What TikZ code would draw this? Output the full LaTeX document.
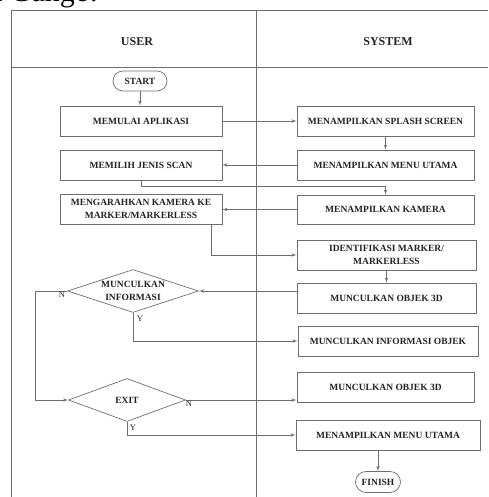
\documentclass[tikz,border=0pt]{standalone}
\usepackage{fontspec}
\setmainfont{Liberation Serif}
\usepackage{tikz}
\usetikzlibrary{arrows,shapes.geometric,shapes.misc}
\definecolor{linegray}{RGB}{110,110,110}
\definecolor{textdark}{RGB}{35,35,35}

\begin{document}
\begin{tikzpicture}[x=1pt,y=-1pt,>=latex',
  wire/.style={draw=linegray,line width=0.7pt},
  box/.style={wire,rectangle,minimum height=30pt,inner sep=0pt,align=center,text=textdark,font=\fontsize{9.5}{12.5}\selectfont\bfseries},
  term/.style={wire,rounded rectangle,minimum height=20pt,inner sep=0pt,text=textdark,font=\fontsize{9.5}{11}\selectfont\bfseries},
  decision/.style={wire,diamond,aspect=3,inner sep=0pt,align=center,text=textdark,font=\fontsize{9.5}{12.5}\selectfont\bfseries},
  lbl/.style={inner sep=0pt,text=textdark,font=\fontsize{8.5}{9}\selectfont}]
  \useasboundingbox (0,0) rectangle (488,497);
  \clip (0,0) rectangle (488,497);

  % Caption above (cut off)
  \node[anchor=base west,inner sep=0pt,font=\fontsize{30}{32}\selectfont] (fragmen) at (-11,2) {a Gango.};

  % Swimlanes
  \draw[wire,line width=0.9pt] (11,497) -- (11,10) -- (488,10);
  \draw[wire,line width=0.9pt] (11,67) -- (488,67);
  \draw[wire,line width=0.9pt] (256,10) -- (256,497);
  \node[text=textdark,font=\fontsize{12}{14}\selectfont\bfseries] (user) at (137,42) {USER};
  \node[text=textdark,font=\fontsize{12}{14}\selectfont\bfseries] (system) at (388,42) {SYSTEM};

  % User
  \node[term,minimum width=54pt] (start) at (140,81) {START};
  \node[box,minimum width=162pt] (memulai) at (141,121) {MEMULAI APLIKASI};
  \node[box,minimum width=162pt] (memilih) at (141,165) {MEMILIH JENIS SCAN};
  \node[box,minimum width=162pt] (arahkan) at (141,209) {MENGARAHKAN KAMERA KE\\MARKER/MARKERLESS};
  \node[decision,minimum width=131pt,minimum height=43pt] (infodec) at (133,291) {MUNCULKAN\\INFORMASI};
  \node[decision,minimum width=117pt,minimum height=43pt] (exitdec) at (127,400) {EXIT};

  % System
  \node[box,minimum width=177pt] (splash) at (385.5,121) {MENAMPILKAN SPLASH SCREEN};
  \node[box,minimum width=177pt] (menu) at (385.5,165) {MENAMPILKAN MENU UTAMA};
  \node[box,minimum width=177pt,minimum height=29pt] (kamera) at (385.5,209.5) {MENAMPILKAN KAMERA};
  \node[box,minimum width=179pt] (identifikasi) at (386.5,255) {IDENTIFIKASI MARKER/\\MARKERLESS};
  \node[box,minimum width=179pt] (objek) at (386.5,298) {MUNCULKAN OBJEK 3D};
  \node[box,minimum width=180pt] (info) at (388,341) {MUNCULKAN INFORMASI OBJEK};
  \node[box,minimum width=177pt] (objektiga) at (385.5,387) {MUNCULKAN OBJEK 3D};
  \node[box,minimum width=184pt] (menuakhir) at (388,435) {MENAMPILKAN MENU UTAMA};
  \node[term,minimum width=45pt,minimum height=21pt] (finish) at (378,482) {FINISH};

  % Flow
  \draw[wire,->] (start.south) -- (start.south |- memulai.north);
  \draw[wire,->] (memulai) -- (splash);
  \draw[wire,->] (splash) -- (menu);
  \draw[wire,->] (menu) -- (memilih);
  \draw[wire,->] (memilih.south) -- ++(0,6) -| (kamera.north);
  \draw[wire,->] (kamera.west) -- (kamera.west -| arahkan.east);
  \draw[wire,->] ([xshift=-11pt]arahkan.south east) |- (identifikasi.west);
  \draw[wire,->] (identifikasi) -- (objek);
  \draw[wire,->] (infodec.east -| objek.west) -- (infodec.east);
  \draw[wire,->] (infodec.west) -- ++(-32,0) |- (exitdec.west);
  \draw[wire,->] (infodec.south) |- (info.west);
  \draw[wire,->] (exitdec.east) -- (exitdec.east -| objektiga.west);
  \draw[wire,->] (exitdec.south) |- (menuakhir.west);
  \draw[wire,->] (menuakhir.south -| finish.north) -- (finish.north);

  % Branch labels
  \node[lbl] (infono) at (62,295) {N};
  \node[lbl] (infoyes) at (140,319) {Y};
  \node[lbl] (exitno) at (189,404) {N};
  \node[lbl] (exityes) at (133,428) {Y};
\end{tikzpicture}
\end{document}
